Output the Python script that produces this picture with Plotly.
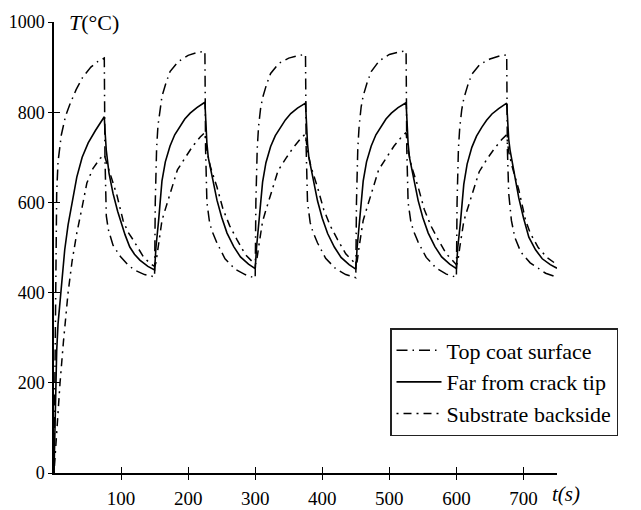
import plotly.graph_objects as go

# ---------------- data ----------------
series_names = ["Top coat surface", "Far from crack tip", "Substrate backside"]

tc_t = [0, 1, 2, 4, 6, 11, 17, 23, 33, 43, 55, 65, 75,
        76, 78, 81, 88, 99, 110, 120, 135,
        150, 151, 153, 155, 158, 161, 167, 173, 185, 200, 215, 225,
        226, 228, 232, 236, 243, 255, 270, 285,
        300, 301, 303, 305, 308, 311, 317, 323, 335, 350, 365, 375,
        376, 378, 382, 386, 393, 405, 420, 435,
        450, 451, 453, 455, 458, 461, 467, 473, 485, 500, 515, 525,
        526, 528, 532, 536, 543, 555, 570, 585,
        600, 601, 603, 605, 608, 611, 617, 623, 635, 650, 665, 675,
        676, 678, 682, 687, 696, 710, 733, 750]
tc_T = [0, 200, 420, 620, 690, 750, 790, 815, 850, 878, 900, 912, 920,
        700, 570, 540, 505, 480, 462, 450, 440,
        435, 600, 720, 770, 810, 835, 865, 890, 912, 926, 933, 935,
        720, 600, 555, 535, 510, 475, 452, 440,
        432, 600, 718, 768, 808, 832, 862, 886, 908, 920, 926, 928,
        720, 600, 555, 535, 510, 476, 453, 440,
        433, 600, 720, 770, 812, 836, 866, 890, 914, 928, 934, 936,
        720, 600, 558, 537, 512, 478, 454, 441,
        434, 600, 718, 766, 806, 830, 860, 884, 906, 918, 925, 927,
        720, 620, 560, 523, 490, 466, 443, 434]

fc_t = [0, 1, 2, 4, 6, 9, 12, 16, 21, 27, 34, 42, 51, 62, 75,
        76, 78, 82, 88, 95, 99, 106, 113, 120, 128, 140,
        150, 152, 156, 161, 166, 173, 180, 188, 195, 203, 213, 225,
        226, 228, 230, 233, 238, 243, 250, 258, 268, 278, 290,
        300, 302, 306, 311, 316, 323, 330, 338, 345, 353, 363, 375,
        376, 378, 380, 383, 388, 393, 400, 408, 418, 428, 440,
        450, 452, 456, 461, 466, 473, 480, 488, 495, 503, 513, 525,
        526, 528, 530, 533, 538, 543, 550, 558, 568, 578, 590,
        600, 602, 606, 611, 616, 623, 630, 638, 645, 653, 663, 675,
        676, 678, 680, 683, 688, 693, 700, 708, 718, 728, 740, 750]
fc_T = [0, 80, 170, 270, 330, 385, 440, 495, 550, 600, 656, 700, 732, 760, 790,
        760, 715, 665, 620, 580, 561, 528, 501, 485, 472, 458,
        450, 500, 560, 648, 690, 725, 750, 770, 785, 798, 810, 822,
        790, 731, 700, 678, 640, 605, 567, 532, 502, 479, 463,
        453, 500, 558, 645, 688, 724, 748, 768, 783, 797, 809, 820,
        788, 730, 700, 676, 638, 603, 565, 531, 501, 478, 462,
        452, 500, 560, 647, 690, 725, 750, 770, 785, 798, 810, 821,
        789, 731, 700, 677, 639, 604, 566, 532, 502, 479, 463,
        453, 500, 555, 640, 685, 722, 747, 767, 782, 796, 808, 820,
        788, 740, 716, 690, 650, 610, 566, 523, 495, 475, 462, 454]

sb_t = [0, 2, 5, 9, 14, 21, 27, 34, 42, 49, 58, 69, 75,
        76, 78, 84, 94, 103, 110, 118, 133, 143,
        150, 152, 155, 158, 161, 165, 169, 176, 184, 196, 207, 218, 225,
        226, 228, 233, 243, 252, 262, 273, 285,
        300, 302, 305, 308, 311, 315, 319, 326, 334, 346, 357, 368, 375,
        376, 378, 383, 393, 402, 412, 423, 435,
        450, 452, 455, 458, 461, 465, 469, 476, 484, 496, 507, 518, 525,
        526, 528, 533, 543, 552, 562, 573, 585,
        600, 602, 605, 608, 611, 615, 619, 626, 634, 646, 657, 668, 675,
        676, 678, 683, 693, 703, 710, 722, 735, 750]
sb_T = [0, 50, 120, 200, 290, 400, 470, 532, 590, 643, 675, 698, 705,
        700, 690, 665, 615, 560, 535, 517, 480, 465,
        458, 466, 500, 533, 560, 580, 600, 634, 672, 700, 725, 745, 755,
        740, 716, 680, 634, 585, 548, 517, 485,
        462, 468, 500, 532, 558, 578, 598, 632, 670, 698, 722, 742, 752,
        738, 715, 680, 633, 585, 548, 517, 486,
        463, 469, 502, 534, 560, 580, 600, 634, 672, 700, 725, 745, 755,
        740, 716, 680, 634, 585, 548, 517, 486,
        462, 468, 500, 532, 558, 578, 598, 630, 668, 697, 720, 740, 750,
        736, 712, 680, 628, 561, 532, 500, 478, 462]

x_ticks = [100, 200, 300, 400, 500, 600, 700]
y_ticks = [0, 200, 400, 600, 800, 1000]
x_range = [0, 750]
y_range = [0, 1000]

# ---------------- figure ----------------
SERIF = "Liberation Serif"
fig = go.Figure()

fig.add_trace(go.Scatter(x=tc_t, y=tc_T, mode="lines", name=series_names[0],
                         line=dict(color="black", width=1.5, dash="11px,5px,1.5px,5px")))
fig.add_trace(go.Scatter(x=fc_t, y=fc_T, mode="lines", name=series_names[1],
                         line=dict(color="black", width=1.6)))
fig.add_trace(go.Scatter(x=sb_t, y=sb_T, mode="lines", name=series_names[2],
                         line=dict(color="black", width=1.5, dash="2px,5px,8px,5px")))
# invisible helper trace to activate the overlay axes (inward half of cross ticks)
fig.add_trace(go.Scatter(x=[], y=[], xaxis="x2", yaxis="y2", showlegend=False,
                         hoverinfo="skip"))

# the page body has an 8px margin, so the figure is sized/offset to compensate
fig.update_layout(
    width=633, height=502,
    margin=dict(l=46, r=84, t=14, b=37, pad=0),
    paper_bgcolor="white", plot_bgcolor="white",
    font=dict(family=SERIF, size=19, color="black"),
    showlegend=True,
    legend=dict(x=0.668, y=0.3215, xanchor="left", yanchor="top",
                bgcolor="white", bordercolor="#222", borderwidth=1.5,
                font=dict(family=SERIF, size=22, color="black"),
                itemwidth=45, tracegroupgap=0),
    xaxis=dict(range=x_range, tickvals=x_ticks, ticks="outside", ticklen=5,
               tickwidth=1.2, tickcolor="black", showline=True, linecolor="black",
               linewidth=1.5, showgrid=False, zeroline=False, ticklabelstandoff=2,
               automargin=False, tickfont=dict(family=SERIF, size=19)),
    yaxis=dict(range=y_range, tickvals=y_ticks, ticks="outside", ticklen=4,
               tickwidth=1.2, tickcolor="black", showline=True, linecolor="black",
               linewidth=1.5, showgrid=False, zeroline=False, automargin=False,
               ticklabelstandoff=0, tickfont=dict(family=SERIF, size=18)),
    xaxis2=dict(range=x_range, tickvals=[0] + x_ticks, overlaying="x", anchor="y",
                side="bottom", ticks="inside", ticklen=6, tickwidth=1.2,
                tickcolor="black", showticklabels=False, showline=False,
                showgrid=False, zeroline=False, automargin=False),
    yaxis2=dict(range=y_range, tickvals=y_ticks, overlaying="y", anchor="x",
                side="left", ticks="inside", ticklen=6, tickwidth=1.2,
                tickcolor="black", showticklabels=False, showline=False,
                showgrid=False, zeroline=False, automargin=False),
    annotations=[
        dict(text="<i>T</i>(°C)", xref="paper", yref="paper", x=0.026, y=1.0,
             xanchor="left", yanchor="middle", showarrow=False,
             font=dict(family=SERIF, size=22, color="black")),
        dict(text="<i>t(s)</i>", xref="paper", yref="paper", x=1.018, y=-0.046,
             xanchor="center", yanchor="middle", showarrow=False,
             font=dict(family=SERIF, size=21, color="black")),
    ],
)

fig.write_html("out.html")
